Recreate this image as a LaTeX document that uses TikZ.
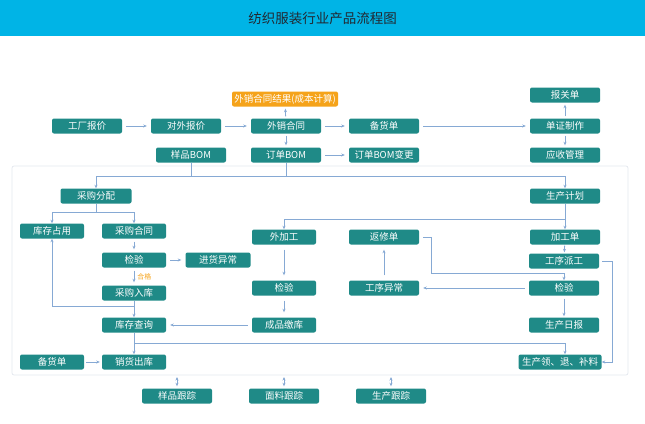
\documentclass[tikz,border=0pt]{standalone}
\usepackage{fontspec}
\setmainfont{Noto Sans CJK SC}
\usetikzlibrary{arrows.meta, positioning}
\definecolor{headBlue}{HTML}{00B4E6}
\definecolor{boxTeal}{HTML}{1F8A87}
\definecolor{boxOrange}{HTML}{F5A31A}
\definecolor{lineBlue}{HTML}{86A9D4}
\definecolor{frameGray}{HTML}{E4E8EE}
\definecolor{titleDark}{HTML}{222831}
\tikzset{
  arrowB/.style={-{Stealth[length=3.5pt,width=3pt]}, lineBlue, line width=0.8pt},
  lineB/.style={lineBlue, line width=0.8pt},
  arrowBB/.style={{Stealth[length=3.5pt,width=3pt]}-{Stealth[length=3.5pt,width=3pt]},
                  lineBlue, line width=0.8pt},
  boxT/.style={rectangle, rounded corners=2pt, fill=boxTeal, text=white, align=center,
               font=\fontsize{9.5}{11}\selectfont, inner sep=1pt,
               minimum width=70pt, minimum height=15pt},
  boxN/.style={boxT, minimum width=64pt},
  boxO/.style={boxT, fill=boxOrange, minimum width=106pt},
}

\begin{document}
\begin{tikzpicture}[x=1pt, y=-1pt]
  \useasboundingbox (0,0) rectangle (645,423);
  % header
  \fill[headBlue] (0,0) rectangle (645,36);
  \node[text=titleDark, font=\fontsize{13.5}{15}\selectfont] (title) at (322.5,18)
    {纺织服装行业产品流程图};
  % frame
  \draw[frameGray, line width=0.8pt, rounded corners=2pt] (12,166) rectangle (628,375);
  \coordinate (fb) at (0,375);

  % top rows
  \node[boxT] (gcbj) at (87,126) {工厂报价};
  \node[boxT] (dwbj) at (186,126) {对外报价};
  \node[boxT] (wxht) at (286,126) {外销合同};
  \node[boxO] (wxjg) at (285,99) {外销合同结果(成本计算)};
  \node[boxT] (bhd1) at (384,126) {备货单};
  \node[boxT] (bgd) at (565,95) {报关单};
  \node[boxT] (dzzz) at (565,126) {单证制作};
  \node[boxT] (yszl) at (565,155) {应收管理};
  \node[boxT] (ypbom) at (191,155) {样品BOM};
  \node[boxT] (ddbom) at (286,155) {订单BOM};
  \node[boxT] (bombg) at (384,155) {订单BOM变更};

  % inside frame
  \node[boxT, minimum width=71pt] (cgfp) at (96,196) {采购分配};
  \node[boxT] (sczjh) at (565,196) {生产计划};
  \node[boxN] (kczy) at (52,231) {库存占用};
  \node[boxN] (cght) at (134,231) {采购合同};
  \node[boxN] (wjg) at (284,237) {外加工};
  \node[boxT] (fxd) at (384,237) {返修单};
  \node[boxT] (jgd) at (565,237) {加工单};
  \node[boxN] (jy1) at (134,260) {检验};
  \node[boxN, minimum width=65pt] (jhyc) at (218,260) {进货异常};
  \node[boxT] (gxpg) at (564,261) {工序派工};
  \node[boxN] (jy2) at (284,288) {检验};
  \node[boxT] (gxyc) at (384,288) {工序异常};
  \node[boxT] (jy3) at (564,288) {检验};
  \node[boxN] (cgrk) at (134,293) {采购入库};
  \node[boxN] (kccx) at (134,325) {库存查询};
  \node[boxN] (cpjk) at (284,325) {成品缴库};
  \node[boxT] (scrb) at (564,325) {生产日报};
  \node[boxN] (bhd2) at (52,362) {备货单};
  \node[boxN] (xhck) at (134,362) {销货出库};
  \node[boxT, minimum width=83pt] (scll) at (560,362) {生产领、退、补料};

  % tracking
  \node[boxT] (ypgz) at (177,396) {样品跟踪};
  \node[boxT] (mlgz) at (284,396) {面料跟踪};
  \node[boxT] (scgz) at (391,396) {生产跟踪};

  % top flow
  \draw[arrowB, shorten <=4pt, shorten >=4pt] (gcbj) -- (dwbj);
  \draw[arrowB, shorten <=4pt, shorten >=4pt] (dwbj) -- (wxht);
  \draw[arrowB, shorten <=4pt, shorten >=4pt] (wxht) -- (bhd1);
  \draw[arrowB, shorten <=4pt, shorten >=4pt] (bhd1) -- (dzzz);
  \draw[arrowB, shorten <=2pt, shorten >=2pt] (wxht) -- (wxjg);
  \draw[arrowB, shorten <=2pt, shorten >=2pt] (wxht) -- (ddbom);
  \draw[arrowB, shorten <=4pt, shorten >=4pt] (ddbom) -- (bombg);
  \draw[arrowB, shorten <=2pt, shorten >=2pt] (dzzz) -- (bgd);
  \draw[arrowB, shorten <=2pt, shorten >=2pt] (dzzz) -- (yszl);

  % bus to purchasing and production
  \draw[arrowB] (ypbom.south) |- (cgfp.north |- 0,176) -- (cgfp.north);
  \draw[arrowB] (ddbom.south) |- (sczjh.north |- 0,176) -- (sczjh.north);
  \draw[lineB] (ypbom.south |- 0,176) -- (ddbom.south |- 0,176);

  % purchasing
  \draw[arrowB] (cgfp.south) -- ++(0,9) -| (kczy.north);
  \draw[arrowB] (cgfp.south) -- ++(0,9) -| (cght.north);
  \draw[arrowB, shorten <=3pt, shorten >=3pt] (cght) -- (jy1);
  \draw[arrowB, shorten <=4pt, shorten >=4pt] (jy1) -- (jhyc);
  \draw[arrowB, shorten <=3pt, shorten >=3pt] (jy1) -- (cgrk)
    node[midway, right, inner sep=3pt, text=boxOrange, font=\fontsize{7}{8}\selectfont] {合格};
  \draw[arrowB] (cgrk.south) -- ++(0,6) -| (kczy.south);
  \draw[arrowB] (cgrk.south) -- (kccx.north);
  \draw[arrowB] (kccx.south) -- (xhck.north);
  \draw[arrowB] (kccx.south) -- ++(0,11) -| (scll.north -| jgd.south);
  \draw[arrowB, shorten <=2pt, shorten >=2pt] (bhd2) -- (xhck);

  % production
  \draw[arrowB] (sczjh.south) -- (jgd.north);
  \draw[arrowB] (sczjh.south |- 0,219) -| (wjg.north);
  \draw[arrowB, shorten <=5pt, shorten >=5pt] (wjg) -- (jy2);
  \draw[arrowB, shorten <=5pt, shorten >=5pt] (jy2) -- (cpjk);
  \draw[arrowB, shorten <=4pt, shorten >=4pt] (cpjk) -- (kccx);
  \draw[arrowB, shorten <=1pt, shorten >=1pt] (jgd) -- (gxpg);
  \draw[arrowB, shorten <=3pt] (gxpg.east) -- ++(13,0) |- (scll.east);
  \draw[arrowB, shorten <=3pt, shorten >=1pt] (jy3) -- (scrb);
  \draw[arrowB, shorten <=4pt, shorten >=4pt] (jy3) -- (gxyc);
  \draw[arrowB, shorten <=5pt, shorten >=5pt] (gxyc) -- (fxd);
  \draw[arrowB, shorten <=4pt] (fxd.east) -- ++(12,0) |- ([yshift=7pt]jy3.north)
    -- (jy3.north);

  % tracking links
  \draw[arrowBB, shorten <=2pt, shorten >=2pt] (ypgz.north) -- (ypgz.north |- fb);
  \draw[arrowBB, shorten <=2pt, shorten >=2pt] (mlgz.north) -- (mlgz.north |- fb);
  \draw[arrowBB, shorten <=2pt, shorten >=2pt] (scgz.north) -- (scgz.north |- fb);
\end{tikzpicture}
\end{document}
